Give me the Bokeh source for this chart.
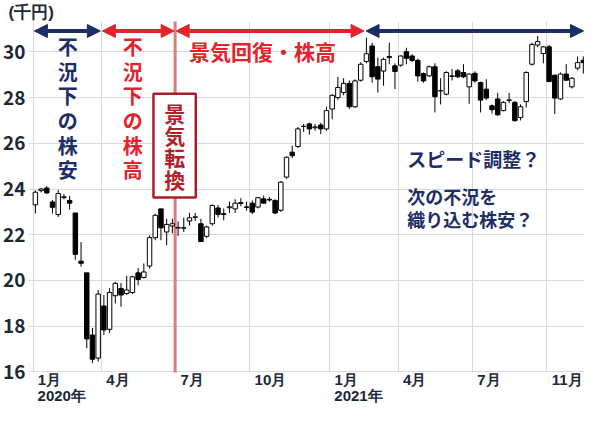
from bokeh.plotting import figure
from bokeh.models import (ColumnDataSource, FixedTicker, LinearAxis, Range1d,
                          Arrow, NormalHead, Label, BoxAnnotation)
from bokeh.embed import file_html
from bokeh.resources import INLINE

# ---------------- data (weekly candles, thousand yen) ----------------
week = list(range(97))
opens = [23.31, 23.93, 24.04, 23.43, 22.88, 23.62, 23.50, 22.95, 20.84, 20.33,
         17.61, 16.60, 18.88, 17.86, 19.33, 19.65, 19.43, 19.47, 20.33, 20.13,
         20.63, 21.87, 23.13, 22.12, 22.38, 22.32, 22.30, 22.60, 22.78, 22.48,
         21.93, 22.48, 23.17, 22.92, 23.18, 23.13, 23.40, 23.19, 23.38, 23.21,
         23.57, 23.55, 23.50, 23.07, 24.52, 25.61, 25.86, 26.74, 26.85, 26.68,
         26.80, 26.63, 27.50, 28.00, 28.22, 28.62, 27.60, 28.76, 29.58, 30.26,
         29.35, 29.16, 29.75, 29.39, 29.42, 30.01, 29.82, 29.63, 29.05, 28.95,
         29.35, 28.30, 28.15, 28.95, 29.17, 29.10, 28.47, 29.06, 28.66, 28.37,
         27.64, 27.94, 27.43, 27.88, 27.79, 27.13, 27.83, 29.46, 30.30, 29.93,
         30.22, 28.98, 27.94, 29.03, 28.47, 29.29, 29.63]
closes = [23.86, 24.00, 23.83, 23.20, 23.80, 23.66, 23.38, 21.14, 20.75, 17.44,
          16.55, 19.40, 17.83, 19.47, 19.87, 19.36, 19.58, 20.16, 20.04, 20.37,
          21.87, 22.85, 22.30, 22.45, 22.48, 22.29, 22.29, 22.74, 22.76, 21.70,
          22.34, 23.28, 22.89, 22.88, 23.22, 23.38, 23.37, 23.22, 22.99, 23.62,
          23.38, 23.52, 22.95, 24.30, 25.39, 25.46, 26.63, 26.74, 26.63, 26.72,
          26.63, 27.43, 28.10, 28.44, 28.62, 27.60, 28.73, 29.46, 29.92, 28.91,
          28.81, 29.67, 29.80, 29.14, 29.82, 29.72, 29.63, 28.95, 28.73, 29.35,
          28.04, 28.30, 29.10, 28.93, 28.91, 28.91, 29.03, 28.73, 27.89, 27.98,
          27.47, 27.25, 27.79, 27.90, 26.99, 27.60, 29.10, 30.33, 30.45, 30.22,
          28.70, 27.98, 29.03, 28.76, 28.85, 29.53, 29.53]
highs = [23.94, 24.05, 24.12, 23.52, 23.95, 23.78, 23.70, 22.95, 21.68, 20.33,
         17.92, 19.58, 19.36, 19.66, 19.94, 19.88, 20.20, 20.20, 20.54, 20.74,
         21.97, 22.92, 23.14, 22.70, 22.70, 22.58, 22.75, 22.95, 22.95, 22.70,
         22.40, 23.33, 23.30, 23.15, 23.45, 23.55, 23.60, 23.45, 23.50, 23.65,
         23.72, 23.65, 23.55, 24.35, 25.42, 25.90, 26.72, 26.85, 26.90, 26.85,
         26.90, 27.60, 28.15, 28.91, 28.85, 28.75, 28.80, 29.55, 30.62, 30.40,
         29.75, 29.75, 30.40, 29.50, 29.85, 30.18, 29.90, 29.70, 29.10, 29.40,
         29.50, 28.85, 29.15, 29.25, 29.25, 29.46, 29.05, 29.15, 28.70, 28.80,
         27.70, 28.20, 27.85, 28.20, 27.85, 27.70, 29.15, 30.40, 30.70, 30.25,
         30.30, 29.00, 29.10, 29.46, 28.90, 29.80, 29.80]
lows = [22.93, 23.85, 23.78, 22.93, 22.78, 23.55, 23.10, 20.90, 20.60, 17.03,
        16.38, 16.45, 17.61, 17.70, 18.99, 18.85, 19.36, 19.40, 19.79, 20.08,
        20.52, 21.76, 21.76, 21.54, 22.06, 21.95, 22.12, 22.40, 22.60, 21.68,
        21.85, 22.40, 22.75, 22.63, 22.95, 22.95, 23.25, 23.05, 22.90, 23.15,
        23.38, 23.45, 22.90, 23.00, 24.45, 25.35, 25.80, 26.50, 26.38, 26.55,
        26.40, 26.55, 27.05, 27.90, 28.10, 27.50, 27.55, 28.70, 29.50, 28.65,
        28.22, 28.52, 29.46, 28.37, 29.35, 29.46, 29.55, 28.70, 28.65, 28.90,
        27.35, 27.70, 28.10, 28.75, 28.85, 28.85, 27.73, 28.65, 27.35, 27.90,
        27.30, 27.20, 27.40, 27.75, 26.95, 27.00, 27.57, 29.40, 30.20, 29.50,
        28.70, 27.28, 27.90, 28.75, 28.40, 29.20, 29.05]

month_start_week = [0, 12, 25, 38, 52, 64, 77, 90]
month_labels = ["1月", "4月", "7月", "10月", "1月", "4月", "7月", "11月"]
year_start_week = [0, 52]
year_labels = ["2020年", "2021年"]
y_ticks = [16, 18, 20, 22, 24, 26, 28, 30]

# ---------------- styling ----------------
FONT = "Noto Sans CJK JP"
LFONT = "Liberation Sans"
NAVY = "#1d2e66"
RED = "#e3222b"
DARKRED = "#a81f28"
AXIS_TXT = "#1b2838"
PXW = 5.8     # px per week in the reference
PXU = 22.93   # px per 1000 yen in the reference


def dx(px):  # reference-image pixel -> week coordinate
    return (px - 34) / PXW


def dy(py):  # reference-image pixel -> value coordinate
    return 16 + (372 - py) / PXU


src = ColumnDataSource(dict(
    x=week, h=highs, l=lows,
    top=[max(o, c) for o, c in zip(opens, closes)],
    bottom=[min(o, c) for o, c in zip(opens, closes)],
    fill=["white" if c >= o else "black" for o, c in zip(opens, closes)],
))

p = figure(width=584, height=406, x_range=Range1d(dx(27), dx(592)), y_range=Range1d(15.97, 31.33),
           output_backend="svg", toolbar_location=None,
           min_border_left=19, min_border_right=0, min_border_top=0, min_border_bottom=0,
           background_fill_color="white", border_fill_color="white",
           outline_line_color=None)

p.title.text = "(千円)"
p.title.align = "left"
p.title.offset = -20
p.title.standoff = 0
p.title.text_font = LFONT
p.title.text_font_size = "17px"
p.title.text_font_style = "bold"
p.title.text_color = AXIS_TXT

# grid
p.xgrid.ticker = FixedTicker(ticks=[w - 0.4 for w in month_start_week])
p.ygrid.ticker = FixedTicker(ticks=y_ticks)
for g in (p.xgrid[0], p.ygrid[0]):
    g.grid_line_color = "#d8d8de"
    g.grid_line_width = 1


def label_center(w, text):
    width = sum(15 if ch in "月年" else 8.3 for ch in text)
    return (w - 0.4) + (5 + width / 2) / PXW


m_pos = [label_center(w, t) for w, t in zip(month_start_week, month_labels)]
y_pos = [label_center(w, t) for w, t in zip(year_start_week, year_labels)]

xa = p.xaxis[0]
xa.ticker = FixedTicker(ticks=m_pos)
xa.major_label_overrides = {pos: t for pos, t in zip(m_pos, month_labels)}
xa2 = LinearAxis(ticker=FixedTicker(ticks=y_pos),
                 major_label_overrides={pos: t for pos, t in zip(y_pos, year_labels)})
p.add_layout(xa2, "below")
for ax, so in ((xa, -2), (xa2, -4)):
    ax.axis_line_color = None
    ax.major_tick_line_color = None
    ax.minor_tick_line_color = None
    ax.major_tick_out = 0
    ax.major_tick_in = 0
    ax.major_label_standoff = so
    ax.major_label_text_font = LFONT
    ax.major_label_text_font_size = "15px"
    ax.major_label_text_font_style = "bold"
    ax.major_label_text_color = AXIS_TXT

ya = p.yaxis[0]
ya.ticker = FixedTicker(ticks=y_ticks)
ya.axis_line_color = None
ya.major_tick_line_color = None
ya.minor_tick_line_color = None
ya.major_tick_out = 0
ya.major_tick_in = 0
ya.major_label_standoff = 3
ya.major_label_text_font = FONT
ya.major_label_text_font_size = "19px"
ya.major_label_text_font_style = "bold"
ya.major_label_text_color = AXIS_TXT

# red turning-point line (behind candles)
p.add_layout(Arrow(start=None, end=None, x_start=dx(176), y_start=dy(0), x_end=dx(176), y_end=dy(422),
                   line_color="#e07b7b", line_width=3, level="underlay"))

# candles
p.segment(x0="x", y0="h", x1="x", y1="l", source=src, line_color="black", line_width=1)
p.vbar(x="x", width=0.78, top="top", bottom="bottom", source=src,
       fill_color="fill", line_color="black", line_width=1)


# period arrows
def period_arrow(x_a, x_b, color):
    p.add_layout(Arrow(
        start=NormalHead(size=13, fill_color=color, line_color=color),
        end=NormalHead(size=13, fill_color=color, line_color=color),
        x_start=dx(x_a), y_start=dy(30), x_end=dx(x_b), y_end=dy(30),
        line_color=color, line_width=4))


period_arrow(33, 100, NAVY)
period_arrow(102, 175, RED)
period_arrow(177, 368, RED)
period_arrow(370, 591, NAVY)

# boxed label
p.add_layout(BoxAnnotation(left=dx(154), right=dx(197), top=dy(93), bottom=dy(197),
                           fill_color="white", fill_alpha=1.0,
                           line_color=DARKRED, line_width=2.5, line_alpha=1.0))


def add_label(x, y, text, color, size, align="left", baseline="middle", lh=1.2):
    p.add_layout(Label(x=x, y=y, text=text, text_color=color, text_font=FONT,
                       text_font_size=size, text_font_style="bold", text_align=align,
                       text_baseline=baseline, text_line_height=lh))


add_label(dx(67), dy(31), "不\n況\n下\nの\n株\n安", NAVY, "20px", "center", "top", 0.85)
add_label(dx(133), dy(31), "不\n況\n下\nの\n株\n高", RED, "20px", "center", "top", 0.85)
add_label(dx(175.5), dy(97), "景\n気\n転\n換", "#b3202a", "21px", "center", "top", 0.74)
add_label(dx(190), dy(50), "景気回復・株高", RED, "21px")
add_label(dx(412), dy(158), "スピード調整？", NAVY, "19px")
add_label(dx(412), dy(196), "次の不況を", NAVY, "18px")
add_label(dx(412), dy(219), "織り込む株安？", NAVY, "18px")

open("out.html", "w").write(file_html(p, INLINE))
